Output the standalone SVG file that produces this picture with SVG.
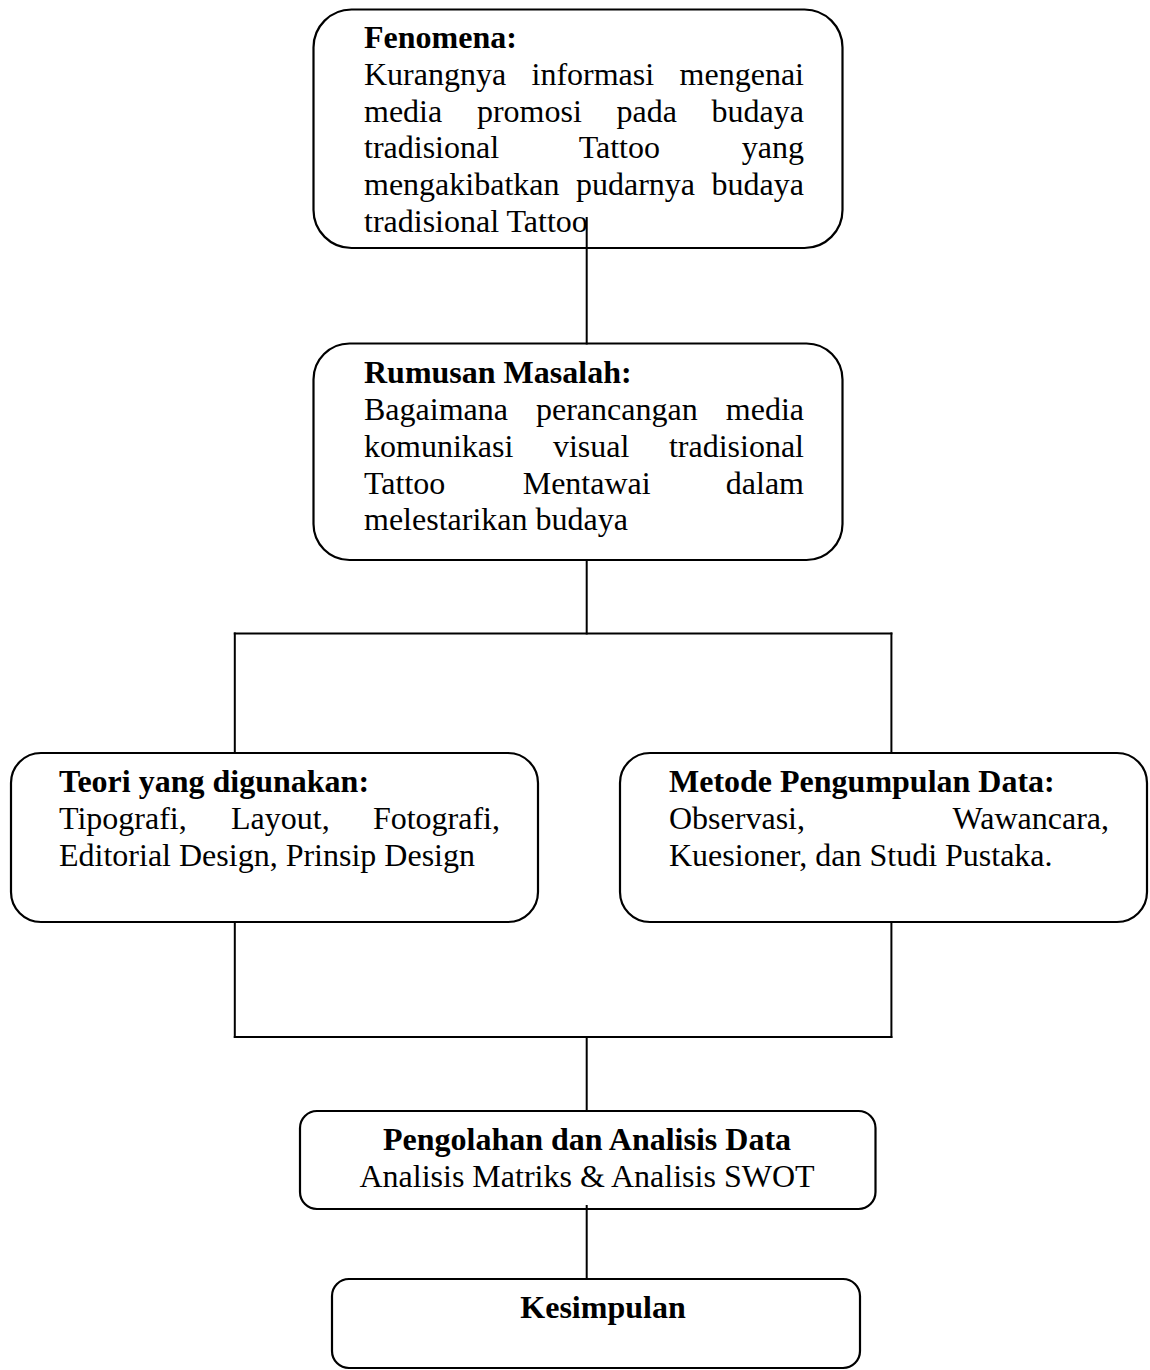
<svg xmlns="http://www.w3.org/2000/svg" width="1150" height="1370" viewBox="0 0 1150 1370">
<style>
  .box { fill: #ffffff; stroke: #000000; stroke-width: 2.2; }
  .conn { stroke: #000000; stroke-width: 2; fill: none; stroke-linecap: square; }
  text { font-family: "Liberation Serif", "Times New Roman", serif; font-size: 32px; fill: #000000; }
  .b { font-weight: bold; }
  .e { text-anchor: end; }
  .m { text-anchor: middle; }
</style>
<rect width="1150" height="1370" fill="#ffffff"/>

<g id="n-fenomena">
  <rect class="box" x="313.5" y="9.5" width="529" height="238.5" rx="38" ry="38"/>
  <text class="b" x="364" y="48">Fenomena:</text>
  <text x="364" y="84.8">Kurangnya</text><text x="531.5" y="84.8">informasi</text><text class="e" x="804" y="84.8">mengenai</text>
  <text x="364" y="121.6">media</text><text x="476.9" y="121.6">promosi</text><text x="616.5" y="121.6">pada</text><text class="e" x="804" y="121.6">budaya</text>
  <text x="364" y="158.4">tradisional</text><text x="578.7" y="158.4">Tattoo</text><text class="e" x="804" y="158.4">yang</text>
  <text x="364" y="195.2">mengakibatkan</text><text x="576" y="195.2">pudarnya</text><text class="e" x="804" y="195.2">budaya</text>
  <text x="364" y="232">tradisional Tattoo</text>
</g>

<g id="n-rumusan">
  <rect class="box" x="313.5" y="343.5" width="529" height="216.5" rx="36" ry="36"/>
  <text class="b" x="364" y="383">Rumusan Masalah:</text>
  <text x="364" y="420">Bagaimana</text><text x="536" y="420">perancangan</text><text class="e" x="804" y="420">media</text>
  <text x="364" y="456.8">komunikasi</text><text x="552.9" y="456.8">visual</text><text class="e" x="804" y="456.8">tradisional</text>
  <text x="364" y="493.6">Tattoo</text><text x="522.7" y="493.6">Mentawai</text><text class="e" x="804" y="493.6">dalam</text>
  <text x="364" y="530.4">melestarikan budaya</text>
</g>

<g id="n-teori">
  <rect class="box" x="11" y="753" width="527" height="169" rx="30" ry="30"/>
  <text class="b" x="59" y="792">Teori yang digunakan:</text>
  <text x="59" y="828.8">Tipografi,</text><text x="231" y="828.8">Layout,</text><text class="e" x="500" y="828.8">Fotografi,</text>
  <text x="59" y="865.6">Editorial Design, Prinsip Design</text>
</g>

<g id="n-metode">
  <rect class="box" x="620" y="753" width="527" height="169" rx="30" ry="30"/>
  <text class="b" x="669" y="792">Metode Pengumpulan Data:</text>
  <text x="669" y="828.8">Observasi,</text><text class="e" x="1109" y="828.8">Wawancara,</text>
  <text x="669" y="865.6">Kuesioner, dan Studi Pustaka.</text>
</g>

<g id="n-pengolahan">
  <rect class="box" x="300" y="1111" width="575.5" height="98" rx="17" ry="17"/>
  <text class="b m" x="587" y="1150">Pengolahan dan Analisis Data</text>
  <text class="m" x="587" y="1187">Analisis Matriks &amp; Analisis SWOT</text>
</g>

<g id="n-kesimpulan">
  <rect class="box" x="332" y="1279" width="528" height="89" rx="17" ry="17"/>
  <text class="b m" x="603" y="1318">Kesimpulan</text>
</g>

<g id="connectors">
  <line class="conn" x1="586.7" y1="218" x2="586.7" y2="343.5"/>
  <line class="conn" x1="586.7" y1="560" x2="586.7" y2="633.5"/>
  <line class="conn" x1="234.8" y1="633.5" x2="891.4" y2="633.5"/>
  <line class="conn" x1="234.8" y1="633.5" x2="234.8" y2="753"/>
  <line class="conn" x1="891.4" y1="633.5" x2="891.4" y2="753"/>
  <line class="conn" x1="234.8" y1="922" x2="234.8" y2="1037"/>
  <line class="conn" x1="891.4" y1="922" x2="891.4" y2="1037"/>
  <line class="conn" x1="234.8" y1="1037" x2="891.4" y2="1037"/>
  <line class="conn" x1="586.7" y1="1037" x2="586.7" y2="1111"/>
  <line class="conn" x1="586.7" y1="1206" x2="586.7" y2="1279"/>
</g>
</svg>
